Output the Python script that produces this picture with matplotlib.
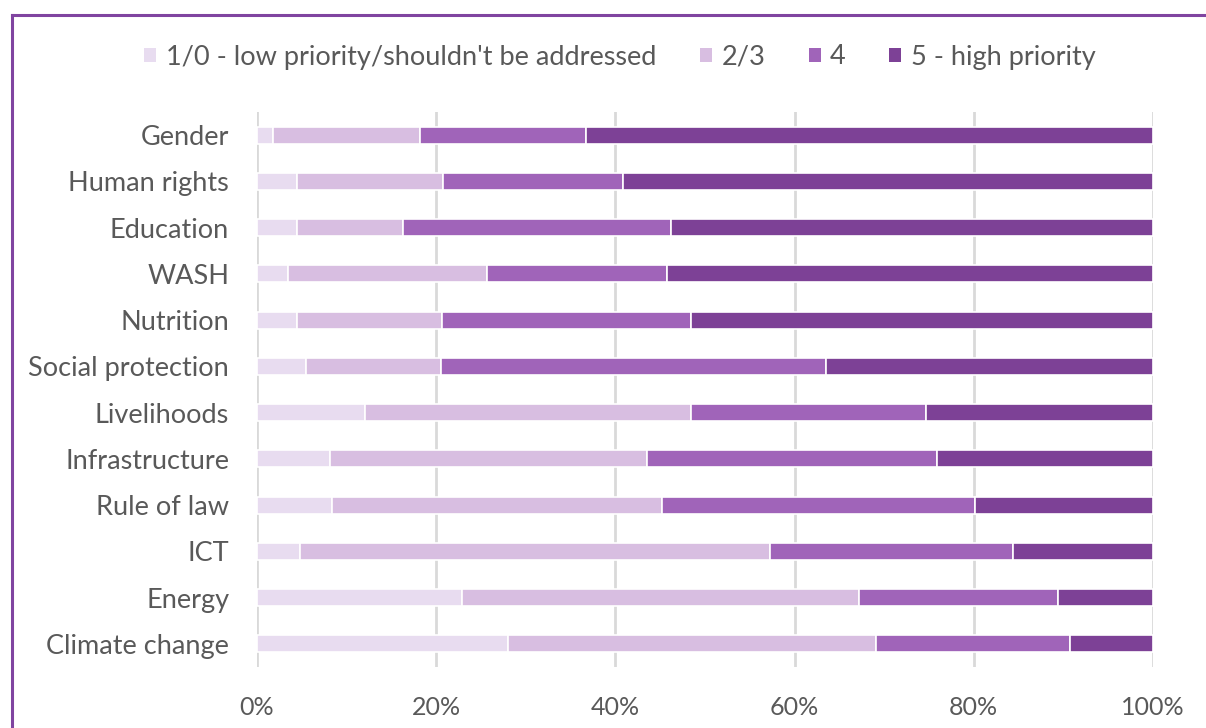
import matplotlib
matplotlib.use("Agg")
import matplotlib.pyplot as plt
from matplotlib.patches import Patch
from matplotlib.lines import Line2D
import numpy as np

categories = ["Gender", "Human rights", "Education", "WASH", "Nutrition",
              "Social protection", "Livelihoods", "Infrastructure",
              "Rule of law", "ICT", "Energy", "Climate change"]
series_names = ["1/0 - low priority/shouldn't be addressed", "2/3", "4",
                "5 - high priority"]
low = [1.8, 4.5, 4.5, 3.5, 4.5, 5.5, 12.1, 8.2, 8.4, 4.8, 22.9, 28.0]
mid = [16.4, 16.3, 11.8, 22.2, 16.1, 15.0, 36.3, 35.3, 36.8, 52.5, 44.3, 41.1]
four = [18.5, 20.0, 29.9, 20.1, 27.8, 43.0, 26.3, 32.4, 34.9, 27.1, 22.2, 21.6]
high = [63.3, 59.2, 53.8, 54.2, 51.6, 36.5, 25.3, 24.1, 19.9, 15.6, 10.6, 9.3]
xticks = [0, 20, 40, 60, 80, 100]
xtick_labels = ["0%", "20%", "40%", "60%", "80%", "100%"]

colors = ["#E8DCF0", "#D8BEE1", "#A064B9", "#7D4196"]
text_color = "#595959"
font = "Lato"

fig = plt.figure(figsize=(12.06, 7.28), dpi=100)
ax = fig.add_axes([257/1206, 1-667/728, (1153-257)/1206, (667-112)/728])

y = np.arange(len(categories))
left = np.zeros(len(categories))
for vals, col, name in zip([low, mid, four, high], colors, series_names):
    ax.barh(y, vals, left=left, height=0.37, color=col, edgecolor="white",
            linewidth=1.2, label=name, zorder=3)
    left = left + np.array(vals)

ax.set_xlim(0, 100)
ax.set_ylim(len(categories) - 0.5, -0.5)
ax.set_xticks(xticks)
ax.set_xticklabels(xtick_labels, fontsize=18, color=text_color, family=font)
ax.set_yticks(y)
ax.set_yticklabels(categories, fontsize=19.5, color=text_color, family=font)
ax.tick_params(axis="both", length=0)
ax.tick_params(axis="x", pad=21)
ax.tick_params(axis="y", pad=20)
ax.xaxis.grid(True, color="#D9D9D9", linewidth=2)
ax.set_axisbelow(True)
for s in ax.spines.values():
    s.set_visible(False)

handles = [Patch(facecolor=c, edgecolor="none") for c in colors]
leg = fig.legend(handles, series_names, loc="center", ncol=4,
                 bbox_to_anchor=(620/1206, 1-57/728), frameon=False,
                 prop={"family": font, "size": 19.5}, handlelength=0.45,
                 handleheight=0.45, handletextpad=0.35, columnspacing=1.6)
for t in leg.get_texts():
    t.set_color(text_color)

frame_col = "#8044A0"
fig.add_artist(Line2D([12/1206, 1.01], [1-15/728, 1-15/728],
                      transform=fig.transFigure, color=frame_col, lw=2.2))
fig.add_artist(Line2D([12/1206, 12/1206], [-0.01, 1-15/728],
                      transform=fig.transFigure, color=frame_col, lw=2.2))

fig.savefig("out.png", dpi=100)
